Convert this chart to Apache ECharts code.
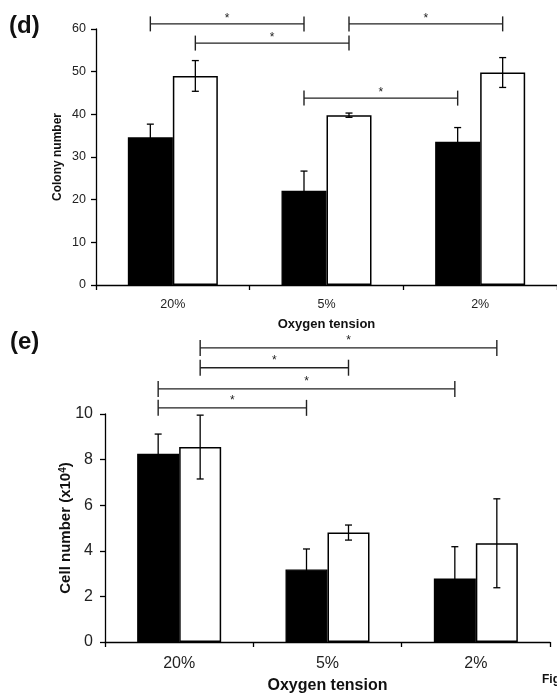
<!DOCTYPE html>
<html><head><meta charset="utf-8">
<script src="https://cdn.jsdelivr.net/npm/echarts@6/dist/echarts.min.js"></script>
<style>html,body{margin:0;padding:0;background:#fff}#c{width:557px;height:700px}</style>
</head><body><div id="c"></div>
<script>
const categories = ['20%', '5%', '2%'];
// Panel (d): colony number
const colonyBlack = [34.6, 22.1, 33.6];
const colonyBlackErr = [3.1, 4.6, 3.3];
const colonyWhite = [49.0, 39.8, 49.8];
const colonyWhiteErr = [3.6, 0.5, 3.5];
// Panel (e): cell number (x10^4)
const cellBlack = [8.26, 3.18, 2.79];
const cellBlackErr = [0.86, 0.9, 1.39];
const cellWhite = [8.55, 4.80, 4.33];
const cellWhiteErr = [1.4, 0.33, 1.95];
// significance brackets: [fromCategory, fromSeries(0 black,1 white), toCategory, toSeries, yValue]
const colonySig = [[0,0,1,0,61.2],[0,1,1,1,56.7],[1,1,2,1,61.2],[1,0,2,0,43.8]];
const cellSig = [[0,1,2,1,12.9],[0,1,1,1,12.03],[0,0,2,0,11.1],[0,0,1,0,10.27]];
const sigMark = '*';

const FONT = 'Liberation Sans, Arial, sans-serif';
const BW_D = 45, BW_E = 42;

function errData(means, errs, s) { return means.map((m, i) => [i, s, m, errs[i]]); }

function errRender(bw) {
  return function (params, api) {
    const cat = api.value(0), s = api.value(1), m = api.value(2), e = api.value(3);
    const x = api.coord([cat, m])[0] + (s === 0 ? -bw / 2 : bw / 2);
    const yt = api.coord([cat, m + e])[1], yb = api.coord([cat, m - e])[1];
    const cap = 3.5;
    const st = { stroke: '#000', lineWidth: 1.3 };
    return { type: 'group', children: [
      { type: 'line', shape: { x1: x, y1: yt, x2: x, y2: yb }, style: st },
      { type: 'line', shape: { x1: x - cap, y1: yt, x2: x + cap, y2: yt }, style: st },
      { type: 'line', shape: { x1: x - cap, y1: yb, x2: x + cap, y2: yb }, style: st }
    ]};
  };
}

function sigRender(bw, half, fs, lift) {
  return function (params, api) {
    const c1 = api.value(0), s1 = api.value(1), c2 = api.value(2), s2 = api.value(3), y = api.value(4);
    const p1 = api.coord([c1, y]), p2 = api.coord([c2, y]);
    const x1 = p1[0] + (s1 === 0 ? -bw / 2 : bw / 2);
    const x2 = p2[0] + (s2 === 0 ? -bw / 2 : bw / 2);
    const py = p1[1];
    const st = { stroke: '#222', lineWidth: 1.4 };
    return { type: 'group', children: [
      { type: 'line', shape: { x1: x1, y1: py, x2: x2, y2: py }, style: st },
      { type: 'line', shape: { x1: x1, y1: py - half, x2: x1, y2: py + half }, style: st },
      { type: 'line', shape: { x1: x2, y1: py - half, x2: x2, y2: py + half }, style: st },
      { type: 'text', style: { text: sigMark, x: (x1 + x2) / 2, y: py + lift, align: 'center', verticalAlign: 'bottom',
        font: fs + 'px ' + FONT, fill: '#222' } }
    ]};
  };
}

const chart = echarts.init(document.getElementById('c'), null, { renderer: 'canvas' });

function xAxisCfg(gi, fs, nameFs, margin, nameGap) {
  return {
    type: 'category', gridIndex: gi, data: categories,
    name: 'Oxygen tension', nameLocation: 'middle', nameGap: nameGap, nameMoveOverlap: false,
    nameTextStyle: { fontFamily: FONT, fontWeight: 'bold', fontSize: nameFs, color: '#111' },
    axisLine: { lineStyle: { color: '#000', width: 1.3 } },
    axisTick: { show: true, interval: 0, length: 5, lineStyle: { color: '#000', width: 1.3 } },
    axisLabel: { interval: 0, fontFamily: FONT, fontSize: fs, color: '#222', margin: margin },
    splitLine: { show: false }
  };
}
function yAxisCfg(gi, max, interval, name, fs, nameFs, nameGap, margin) {
  return {
    type: 'value', gridIndex: gi, min: 0, max: max, interval: interval,
    name: name, nameLocation: 'middle', nameRotate: 90, nameGap: nameGap, nameMoveOverlap: false,
    nameTextStyle: { fontFamily: FONT, fontWeight: 'bold', fontSize: nameFs, color: '#111',
      rich: { a: { fontFamily: FONT, fontWeight: 'bold', fontSize: nameFs, color: '#111' },
              s: { fontFamily: FONT, fontWeight: 'bold', fontSize: Math.round(nameFs * 0.65), color: '#111', verticalAlign: 'top', padding: [0, 0, 6, 0] } } },
    axisLine: { show: true, lineStyle: { color: '#000', width: 1.3 } },
    axisTick: { show: true, length: 5, lineStyle: { color: '#000', width: 1.3 } },
    axisLabel: { fontFamily: FONT, fontSize: fs, color: '#222', margin: margin },
    splitLine: { show: false }
  };
}

const barBlack = { color: '#000', borderColor: '#000', borderWidth: 1.3 };
const barWhite = { color: '#fff', borderColor: '#000', borderWidth: 1.5 };

chart.setOption({
  animation: false,
  backgroundColor: '#fff',
  grid: [
    { left: 96, top: 29, width: 464, height: 256 },
    { left: 105, top: 414, width: 445, height: 228 }
  ],
  xAxis: [ xAxisCfg(0, 12.5, 13, 13, 33), xAxisCfg(1, 16, 16, 14, 36) ],
  yAxis: [
    yAxisCfg(0, 60, 10, 'Colony number', 12.5, 12, 32, 10),
    yAxisCfg(1, 10, 2, '{a|Cell number (x10}{s|4}{a|)}', 16, 15, 31, 12)
  ],
  series: [
    { type: 'bar', xAxisIndex: 0, yAxisIndex: 0, data: colonyBlack, barWidth: BW_D, barGap: '0%', itemStyle: barBlack },
    { type: 'bar', xAxisIndex: 0, yAxisIndex: 0, data: colonyWhite, barWidth: BW_D, barGap: '0%', itemStyle: barWhite },
    { type: 'bar', xAxisIndex: 1, yAxisIndex: 1, data: cellBlack, barWidth: BW_E, barGap: '0%', itemStyle: barBlack },
    { type: 'bar', xAxisIndex: 1, yAxisIndex: 1, data: cellWhite, barWidth: BW_E, barGap: '0%', itemStyle: barWhite },
    { type: 'custom', xAxisIndex: 0, yAxisIndex: 0, z: 5, clip: false, encode: { x: 0, y: 2 },
      data: errData(colonyBlack, colonyBlackErr, 0).concat(errData(colonyWhite, colonyWhiteErr, 1)), renderItem: errRender(BW_D) },
    { type: 'custom', xAxisIndex: 1, yAxisIndex: 1, z: 5, clip: false, encode: { x: 0, y: 2 },
      data: errData(cellBlack, cellBlackErr, 0).concat(errData(cellWhite, cellWhiteErr, 1)), renderItem: errRender(BW_E) },
    { type: 'custom', xAxisIndex: 0, yAxisIndex: 0, z: 5, clip: false, encode: { x: 0, y: 4 },
      data: colonySig, renderItem: sigRender(BW_D, 7.5, 12, 1) },
    { type: 'custom', xAxisIndex: 1, yAxisIndex: 1, z: 5, clip: false, encode: { x: 0, y: 4 },
      data: cellSig, renderItem: sigRender(BW_E, 8, 12, -1) }
  ],
  graphic: [
    { type: 'text', left: 9, top: 14, style: { text: '(d)', font: 'bold 24px ' + FONT, fill: '#111' } },
    { type: 'text', left: 10, top: 330, style: { text: '(e)', font: 'bold 24px ' + FONT, fill: '#111' } },
    { type: 'text', left: 542, top: 674, style: { text: 'Fig', font: 'bold 12px ' + FONT, fill: '#111' } }
  ]
});
</script>
</body></html>
